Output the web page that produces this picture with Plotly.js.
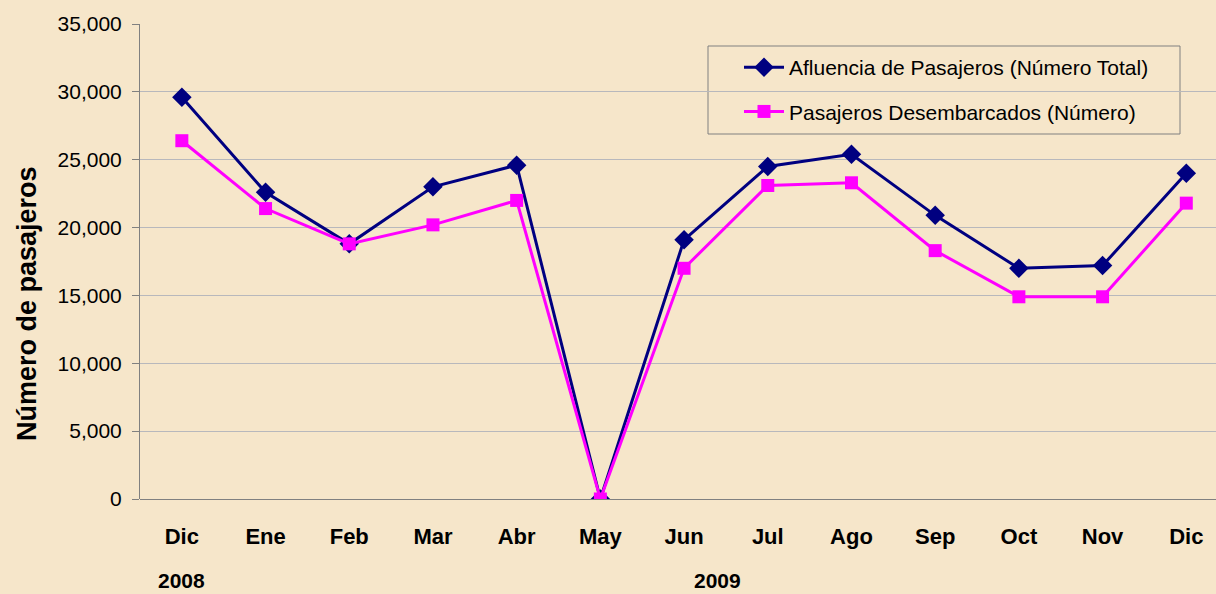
<!DOCTYPE html>
<html>
<head>
<meta charset="utf-8">
<script src="https://cdn.plot.ly/plotly-3.0.1.min.js"></script>
<style>
  html, body { margin: 0; padding: 0; background: #f6e6ca; }
  #chart { width: 1216px; height: 594px; }
</style>
</head>
<body>
<div id="chart"></div>
<script>
const months = ["Dic", "Ene", "Feb", "Mar", "Abr", "May", "Jun", "Jul", "Ago", "Sep", "Oct", "Nov", "Dic"];
const years = [{label: "2008", at: 0}, {label: "2009", at: 6.4}];
const seriesTotalName = "Afluencia de Pasajeros (Número Total)";
const seriesTotal = [29600, 22600, 18800, 23000, 24600, 0, 19100, 24500, 25400, 20900, 17000, 17200, 24000];
const seriesDesembName = "Pasajeros Desembarcados (Número)";
const seriesDesemb = [26400, 21400, 18800, 20200, 22000, 0, 17000, 23100, 23300, 18300, 14900, 14900, 21800];
const yTicks = [0, 5000, 10000, 15000, 20000, 25000, 30000, 35000];

const xIdx = months.map((m, i) => i);
const font = "Liberation Sans, Arial, sans-serif";

const traces = [
  {
    x: xIdx, y: seriesTotal, name: seriesTotalName, type: "scatter", mode: "lines+markers",
    line: {color: "#000080", width: 3},
    marker: {symbol: "diamond", size: 15, color: "#000080"},
    legendgroup: "a"
  },
  {
    x: xIdx, y: seriesDesemb, name: seriesDesembName, type: "scatter", mode: "lines+markers",
    line: {color: "#ff00ff", width: 3},
    marker: {symbol: "square", size: 13, color: "#ff00ff"},
    legendgroup: "b"
  }
];

const layout = {
  width: 1216, height: 594,
  paper_bgcolor: "#f6e6ca",
  plot_bgcolor: "rgba(0,0,0,0)",
  margin: {l: 140, r: 0, t: 24, b: 95},
  font: {family: font, color: "#000000", size: 21},
  showlegend: true,
  legend: {
    x: (739 - 140) / 1076, y: 0.9516, xanchor: "left", yanchor: "top",
    bgcolor: "rgba(0,0,0,0)", borderwidth: 0,
    font: {family: font, size: 21, color: "#000000"},
    tracegroupgap: 14,
    itemwidth: 40
  },
  shapes: [
    {
      type: "rect", xref: "paper", yref: "paper", layer: "below",
      x0: (708 - 140) / 1076, x1: (1180 - 140) / 1076,
      y0: (499 - 134) / 475, y1: (499 - 46) / 475,
      line: {color: "#808080", width: 1}, fillcolor: "rgba(0,0,0,0)"
    }
  ],
  xaxis: {
    range: [-0.5, 12.355],
    tickvals: xIdx, ticktext: months,
    tickfont: {family: font, size: 22, color: "#000000", weight: "bold"},
    showgrid: false, zeroline: false,
    showline: false,
    ticks: "", ticklabelstandoff: 22,
    fixedrange: true
  },
  yaxis: {
    range: [0, 35000],
    tickvals: yTicks,
    tickformat: ",d",
    tickfont: {family: font, size: 21, color: "#000000"},
    showgrid: true, gridcolor: "#b8b8bc", gridwidth: 1,
    zeroline: true, zerolinecolor: "#808080", zerolinewidth: 1,
    showline: true, linecolor: "#808080", linewidth: 1,
    ticks: "outside", ticklen: 7, tickcolor: "#808080",
    ticklabelstandoff: 6,
    fixedrange: true
  },
  annotations: [
    {
      text: "Número de pasajeros", xref: "paper", yref: "paper",
      x: (27 - 140) / 1076, y: 0.4105, xanchor: "center", yanchor: "middle", textangle: -90,
      showarrow: false, font: {family: font, size: 27, weight: "bold", color: "#000000"}
    }
  ].concat(years.map(yr => ({
    text: yr.label, xref: "x", yref: "paper", x: yr.at, y: -0.171,
    xanchor: "center", yanchor: "middle", showarrow: false,
    font: {family: font, size: 21, weight: "bold", color: "#000000"}
  })))
};

Plotly.newPlot("chart", traces, layout, {displayModeBar: false, staticPlot: true});
</script>
</body>
</html>
